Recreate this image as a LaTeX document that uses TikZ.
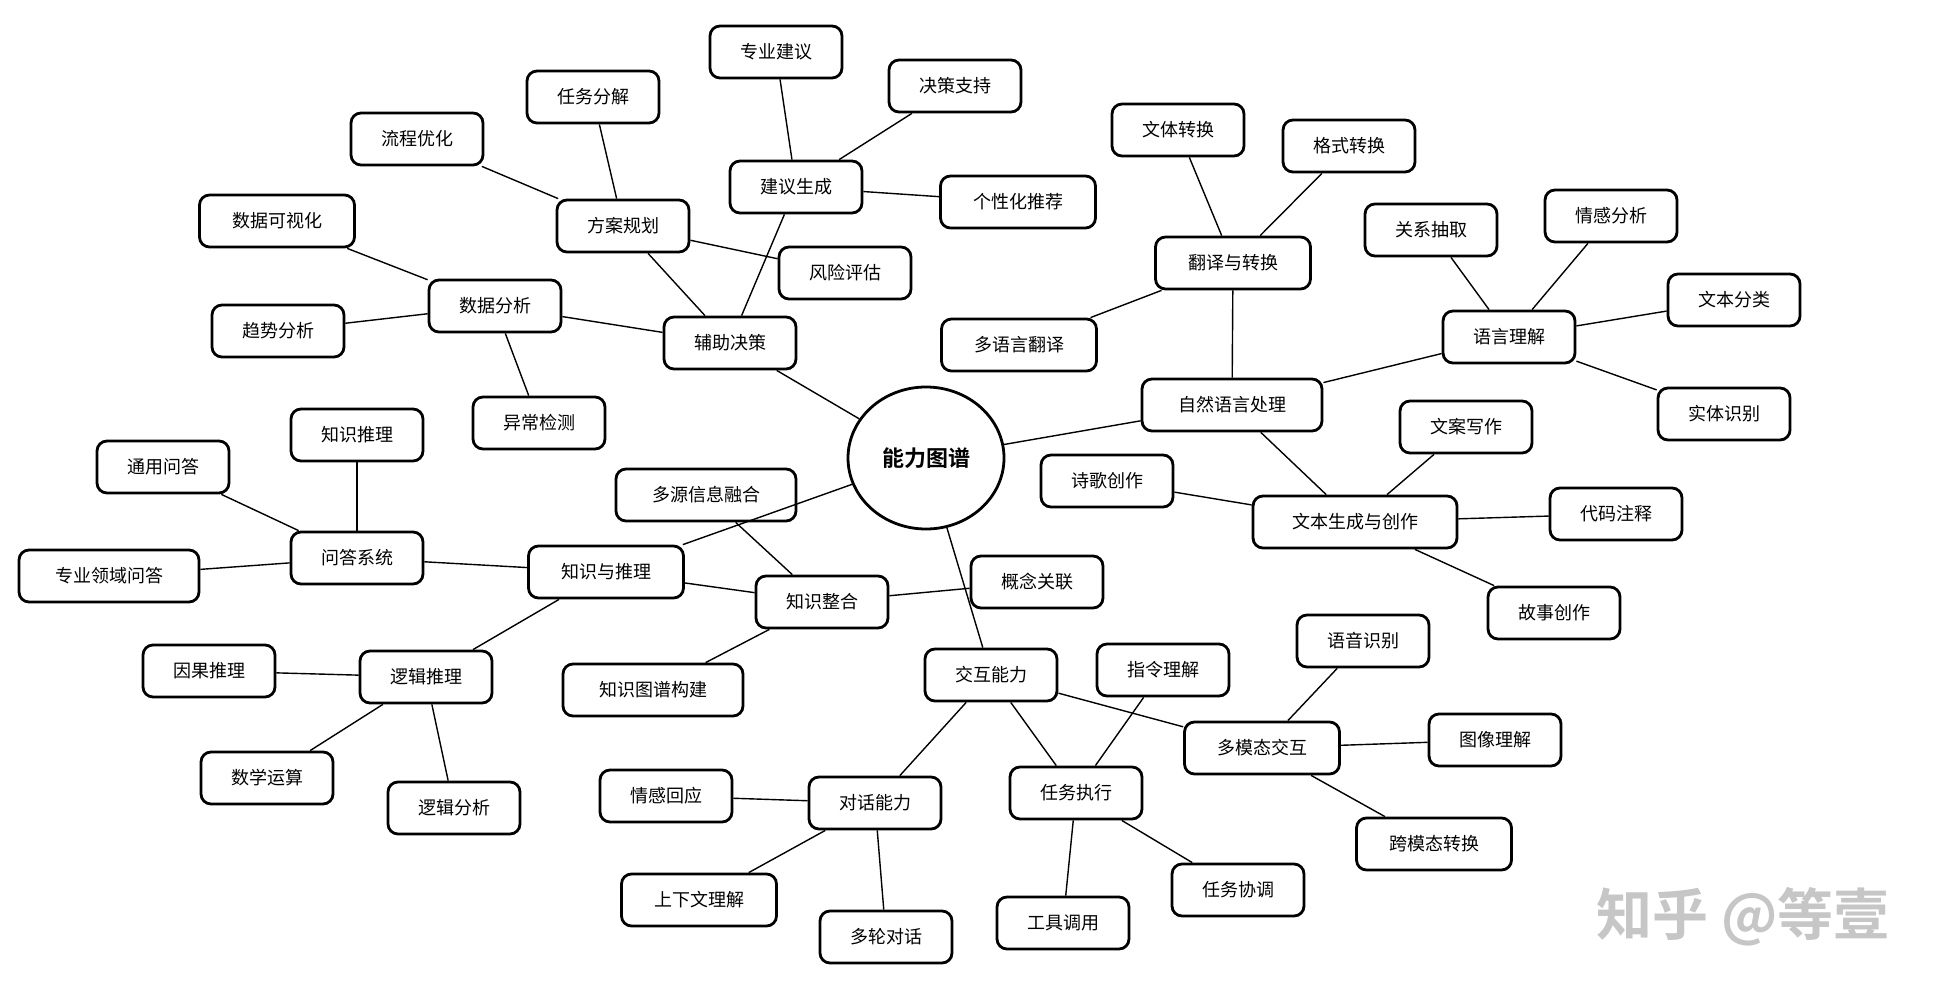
\documentclass[tikz,border=0pt]{standalone}
\usepackage{fontspec}
\setmainfont{Noto Sans CJK SC}[BoldFont={Noto Sans CJK SC Bold}]
\usetikzlibrary{shapes.geometric}
\begin{document}
\begin{tikzpicture}[x=0.5pt, y=-0.5pt,
  box/.style={draw, line width=1.4pt, rounded corners=5pt, fill=white, inner xsep=15pt, minimum height=26pt, font=\fontsize{9}{11}\selectfont},
  boxm/.style={box, minimum width=77.5pt},
  boxw/.style={box, minimum width=90pt},
  boxx/.style={box, minimum width=102pt},
  core/.style={draw, ellipse, line width=1.4pt, fill=white, minimum width=78pt, minimum height=71pt, font=\fontsize{11}{13}\selectfont\bfseries},
  link/.style={line width=0.7pt}]
  \useasboundingbox (0,0) rectangle (1946,994);

  % Centre
  \node[core] (Core) at (926,458) {能力图谱};

  % Decision support branch
  \node[box] (Dec) at (730,343) {辅助决策};
  \node[box] (DataAna) at (495,306) {数据分析};
  \node[boxm] (DataVis) at (277,221) {数据可视化};
  \node[box] (Trend) at (278,331) {趋势分析};
  \node[box] (Anom) at (539,423) {异常检测};
  \node[box] (Plan) at (623,226) {方案规划};
  \node[box] (Flow) at (417,139) {流程优化};
  \node[box] (TaskDec) at (593,97) {任务分解};
  \node[box] (Risk) at (845,273) {风险评估};
  \node[box] (Advice) at (796,187) {建议生成};
  \node[box] (Expert) at (776,52) {专业建议};
  \node[box] (Support) at (955,86) {决策支持};
  \node[boxm] (Recom) at (1018,202) {个性化推荐};

  % NLP branch
  \node[boxw] (NLP) at (1232,405) {自然语言处理};
  \node[boxm] (Trans) at (1233,263) {翻译与转换};
  \node[box] (Style) at (1178,130) {文体转换};
  \node[box] (Format) at (1349,146) {格式转换};
  \node[boxm] (Multi) at (1019,345) {多语言翻译};
  \node[box] (Under) at (1509,337) {语言理解};
  \node[box] (Rel) at (1431,230) {关系抽取};
  \node[box] (Senti) at (1611,216) {情感分析};
  \node[box] (Cls) at (1734,300) {文本分类};
  \node[box] (Ent) at (1724,414) {实体识别};
  \node[boxx] (Gen) at (1355,522) {文本生成与创作};
  \node[box] (Copy) at (1466,427) {文案写作};
  \node[box] (Poem) at (1107,481) {诗歌创作};
  \node[box] (Code) at (1616,514) {代码注释};
  \node[box] (Story) at (1554,613) {故事创作};

  % Knowledge branch
  \node[boxm] (Know) at (606,572) {知识与推理};
  \node[box] (QA) at (357,558) {问答系统};
  \node[box] (KInf) at (357,435) {知识推理};
  \node[box] (GenQA) at (163,467) {通用问答};
  \node[boxw] (DomQA) at (109,576) {专业领域问答};
  \node[box] (Logic) at (426,677) {逻辑推理};
  \node[box] (Cause) at (209,671) {因果推理};
  \node[box] (Math) at (267,778) {数学运算};
  \node[box] (LogAna) at (454,808) {逻辑分析};
  \node[box] (Integ) at (822,602) {知识整合};
  \node[boxw] (Fusion) at (706,495) {多源信息融合};
  \node[box] (Concept) at (1037,582) {概念关联};
  \node[boxw] (KG) at (653,690) {知识图谱构建};

  % Interaction branch
  \node[box] (Inter) at (991,675) {交互能力};
  \node[box] (Dialog) at (875,803) {对话能力};
  \node[box] (Emo) at (666,796) {情感回应};
  \node[boxm] (Ctx) at (699,900) {上下文理解};
  \node[box] (Turns) at (886,937) {多轮对话};
  \node[box] (Exec) at (1076,793) {任务执行};
  \node[box] (Instr) at (1163,670) {指令理解};
  \node[box] (Tool) at (1063,923) {工具调用};
  \node[box] (Coord) at (1238,890) {任务协调};
  \node[boxm] (Modal) at (1262,748) {多模态交互};
  \node[box] (Speech) at (1363,641) {语音识别};
  \node[box] (Image) at (1495,740) {图像理解};
  \node[boxm] (Cross) at (1434,844) {跨模态转换};

  % Links
  \draw[link] (Core) -- (Dec);
  \draw[link] (Core) -- (NLP);
  \draw[link] (Core) -- (Know);
  \draw[link] (Core) -- (Inter);

  \draw[link] (Dec) -- (DataAna);
  \draw[link] (Dec) -- (Plan);
  \draw[link] (Dec) -- (Advice);
  \draw[link] (DataAna) -- (DataVis);
  \draw[link] (DataAna) -- (Trend);
  \draw[link] (DataAna) -- (Anom);
  \draw[link] (Plan) -- (Flow);
  \draw[link] (Plan) -- (TaskDec);
  \draw[link] (Plan) -- (Risk);
  \draw[link] (Advice) -- (Expert);
  \draw[link] (Advice) -- (Support);
  \draw[link] (Advice) -- (Recom);

  \draw[link] (NLP) -- (Trans);
  \draw[link] (NLP) -- (Under);
  \draw[link] (NLP) -- (Gen);
  \draw[link] (Trans) -- (Style);
  \draw[link] (Trans) -- (Format);
  \draw[link] (Trans) -- (Multi);
  \draw[link] (Under) -- (Rel);
  \draw[link] (Under) -- (Senti);
  \draw[link] (Under) -- (Cls);
  \draw[link] (Under) -- (Ent);
  \draw[link] (Gen) -- (Copy);
  \draw[link] (Gen) -- (Poem);
  \draw[link] (Gen) -- (Code);
  \draw[link] (Gen) -- (Story);

  \draw[link] (Know) -- (QA);
  \draw[link] (Know) -- (Logic);
  \draw[link] (Know) -- (Integ);
  \draw[link] (QA) -- (KInf);
  \draw[link] (QA) -- (GenQA);
  \draw[link] (QA) -- (DomQA);
  \draw[link] (Logic) -- (Cause);
  \draw[link] (Logic) -- (Math);
  \draw[link] (Logic) -- (LogAna);
  \draw[link] (Integ) -- (Fusion);
  \draw[link] (Integ) -- (Concept);
  \draw[link] (Integ) -- (KG);

  \draw[link] (Inter) -- (Dialog);
  \draw[link] (Inter) -- (Exec);
  \draw[link] (Inter) -- (Modal);
  \draw[link] (Dialog) -- (Emo);
  \draw[link] (Dialog) -- (Ctx);
  \draw[link] (Dialog) -- (Turns);
  \draw[link] (Exec) -- (Instr);
  \draw[link] (Exec) -- (Tool);
  \draw[link] (Exec) -- (Coord);
  \draw[link] (Modal) -- (Speech);
  \draw[link] (Modal) -- (Image);
  \draw[link] (Modal) -- (Cross);

  % Watermark
  \node[text=gray!45, font=\fontsize{28}{31}\selectfont\bfseries] (Mark) at (1743,917) {知乎 @等壹};
\end{tikzpicture}
\end{document}
